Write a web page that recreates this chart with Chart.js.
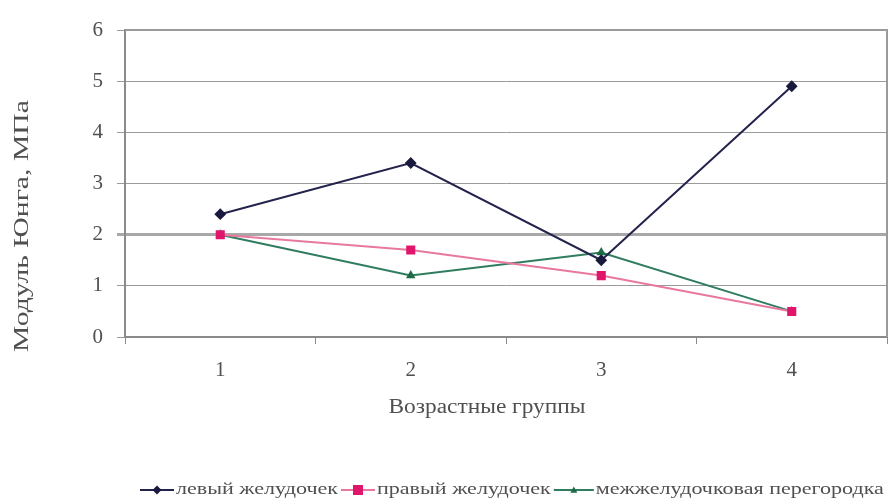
<!DOCTYPE html>
<html>
<head>
<meta charset="utf-8">
<script src="https://cdn.jsdelivr.net/npm/chart.js@4/dist/chart.umd.min.js"></script>
<style>
  html, body { margin: 0; padding: 0; background: #ffffff; }
  #wrap { width: 894px; height: 502px; position: relative; }
</style>
</head>
<body>
<div id="wrap"><canvas id="chart" width="894" height="502"></canvas></div>
<script>
// Возрастные группы
const categories = ['1', '2', '3', '4'];
// Модуль Юнга, МПа
const leftVentricle = [2.4, 3.4, 1.5, 4.9];
const rightVentricle = [2.0, 1.7, 1.2, 0.5];
const septum = [2.0, 1.2, 1.65, 0.5];
const yTickValues = [0, 1, 2, 3, 4, 5, 6];

const seriesNames = ['левый желудочек', 'правый желудочек', 'межжелудочковая перегородка'];
const yTitle = 'Модуль Юнга, МПа';
const xTitle = 'Возрастные группы';

const SERIF = '"Liberation Serif", "DejaVu Serif", serif';
const TEXT = '#505050';

// draws text stretched horizontally so that it spans the given width
function stretchedText(ctx, text, cx, cy, font, targetWidth, angle) {
  ctx.save();
  ctx.font = font;
  ctx.fillStyle = TEXT;
  ctx.textAlign = 'center';
  ctx.textBaseline = 'middle';
  const w = ctx.measureText(text).width;
  ctx.translate(cx, cy);
  if (angle) ctx.rotate(angle);
  ctx.scale(targetWidth / w, 1);
  ctx.fillText(text, 0, 0);
  ctx.restore();
}

function drawMarker(ctx, style, x, y, r) {
  ctx.beginPath();
  if (style === 'rectRot') {
    ctx.moveTo(x, y - r); ctx.lineTo(x + r, y); ctx.lineTo(x, y + r); ctx.lineTo(x - r, y);
  } else if (style === 'rect') {
    ctx.rect(x - r, y - r, 2 * r, 2 * r);
  } else if (style === 'triangle') {
    ctx.moveTo(x, y - r); ctx.lineTo(x + r, y + r * 0.8); ctx.lineTo(x - r, y + r * 0.8);
  }
  ctx.closePath();
  ctx.fill();
}

const decorations = {
  id: 'decorations',
  afterDraw(chart) {
    const ctx = chart.ctx;
    const a = chart.chartArea;

    // top and right edges of the plot frame
    ctx.save();
    ctx.strokeStyle = '#9a9a9a';
    ctx.lineWidth = 2;
    ctx.beginPath();
    ctx.moveTo(a.left, a.top);
    ctx.lineTo(a.right, a.top);
    ctx.lineTo(a.right, a.bottom);
    ctx.stroke();
    ctx.restore();

    // axis titles
    stretchedText(ctx, yTitle, 22, 226, '21px ' + SERIF, 252, -Math.PI / 2);
    stretchedText(ctx, xTitle, 487, 408, '20px ' + SERIF, 197, 0);

    // legend: line + marker, then label
    ctx.save();
    ctx.font = '17px ' + SERIF;
    const base = ctx.measureText(seriesNames[0]).width;
    const sx = 162 / base;
    let x = 140;
    const y = 490;
    chart.data.datasets.forEach((ds, i) => {
      const lineLen = i === 2 ? 40 : 34;
      ctx.strokeStyle = ds.borderColor;
      ctx.lineWidth = 2;
      ctx.beginPath();
      ctx.moveTo(x, y);
      ctx.lineTo(x + lineLen, y);
      ctx.stroke();
      ctx.fillStyle = ds.pointBackgroundColor;
      drawMarker(ctx, ds.pointStyle, x + lineLen / 2, y, ds.pointRadius);
      x += lineLen + 2;
      const w = ctx.measureText(ds.label).width * sx;
      ctx.save();
      ctx.fillStyle = TEXT;
      ctx.textBaseline = 'middle';
      ctx.translate(x, y);
      ctx.scale(sx, 1);
      ctx.fillText(ds.label, 0, 0);
      ctx.restore();
      x += w + 3;
    });
    ctx.restore();
  }
};

function build() {
  new Chart(document.getElementById('chart'), {
    type: 'line',
    data: {
      labels: categories,
      datasets: [
        {
          label: seriesNames[0],
          data: leftVentricle,
          borderColor: '#23234d',
          backgroundColor: '#23234d',
          pointBackgroundColor: '#1a1a3e',
          pointBorderColor: '#1a1a3e',
          pointStyle: 'rectRot',
          pointRadius: 4.5,
          borderWidth: 2,
          tension: 0
        },
        {
          label: seriesNames[1],
          data: rightVentricle,
          borderColor: '#e8789e',
          backgroundColor: '#e8789e',
          pointBackgroundColor: '#e0166c',
          pointBorderColor: '#e0166c',
          pointStyle: 'rect',
          pointRadius: 5,
          borderWidth: 2,
          tension: 0
        },
        {
          label: seriesNames[2],
          data: septum,
          borderColor: '#2f7d5e',
          backgroundColor: '#2f7d5e',
          pointBackgroundColor: '#1f6b48',
          pointBorderColor: '#1f6b48',
          pointStyle: 'triangle',
          pointRadius: 3.5,
          borderWidth: 2,
          tension: 0
        }
      ]
    },
    options: {
      responsive: false,
      animation: false,
      layout: { padding: { top: 30, right: 7, left: 0, bottom: 0 } },
      plugins: {
        legend: { display: false },
        title: { display: false },
        tooltip: { enabled: false }
      },
      scales: {
        x: {
          type: 'category',
          offset: true,
          grid: {
            offset: true,
            drawOnChartArea: false,
            drawTicks: true,
            tickLength: 7,
            color: '#8a8a8a',
            lineWidth: 1
          },
          border: { display: true, color: '#8a8a8a', width: 2 },
          ticks: {
            color: TEXT,
            font: { family: SERIF, size: 21 },
            padding: 14,
            maxRotation: 0
          },
          afterFit(scale) { scale.height = 165; }
        },
        y: {
          min: 0,
          max: 6,
          afterBuildTicks(scale) {
            scale.ticks = yTickValues.map(v => ({ value: v }));
          },
          grid: {
            color: (c) => (c.tick && c.tick.value === 2 ? '#a8a8a8' : '#9a9a9a'),
            lineWidth: (c) => (c.tick && c.tick.value === 2 ? 3 : 1),
            tickLength: 8
          },
          border: { display: true, color: '#8a8a8a', width: 2 },
          ticks: {
            color: TEXT,
            font: { family: SERIF, size: 21 },
            padding: 14
          },
          afterFit(scale) { scale.width = 125; }
        }
      }
    },
    plugins: [decorations]
  });
}

if (document.fonts && document.fonts.load) {
  document.fonts.load('20px "Liberation Serif"').then(build, build);
} else {
  build();
}
</script>
</body>
</html>
